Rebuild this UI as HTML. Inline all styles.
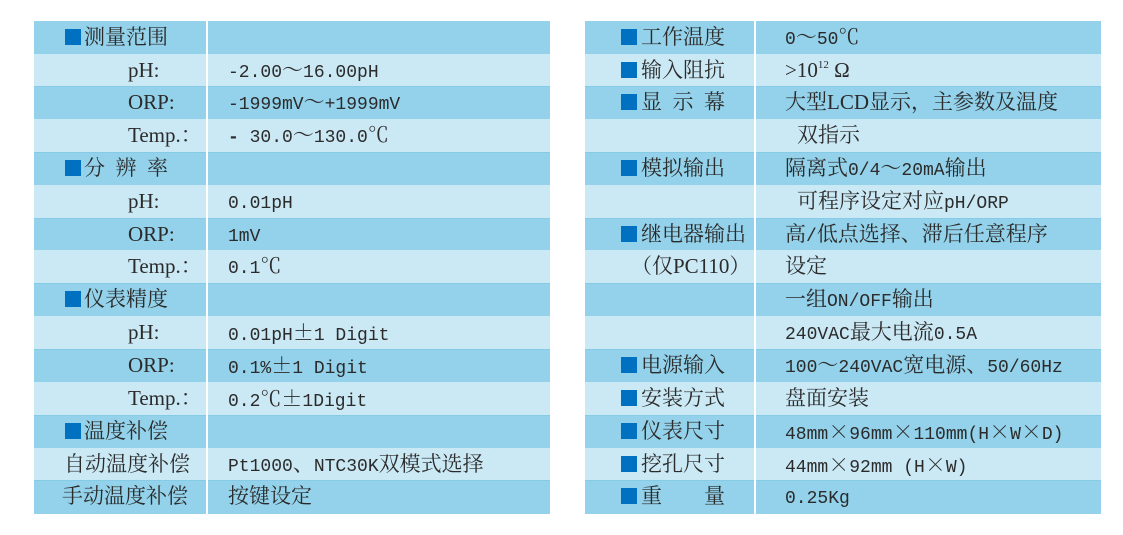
<!DOCTYPE html>
<html>
<head>
<meta charset="utf-8">
<style>
html,body{margin:0;padding:0;background:#fff;}
body{width:1123px;height:535px;position:relative;overflow:hidden;
 font-family:"Liberation Serif","Noto Serif CJK SC",serif;font-size:21px;color:#2b2b2b;}
.t{position:absolute;top:0;width:516px;height:535px;}
.row{position:absolute;left:0;width:516px;}
.row .a,.row .b{position:absolute;top:0;height:100%;}
.d .a,.d .b{background:#93D2EA;box-shadow:inset 0 1px 0 #86CBE6;}
.l .a,.l .b{background:#CBE9F5;}
.r0 .a,.r0 .b{box-shadow:none;}
.L .a{left:0;width:172px;}
.L .b{left:174px;width:342px;}
.R .a{left:0;width:169px;}
.R .b{left:171px;width:345px;}
.tx{position:absolute;top:0;white-space:nowrap;}
.sq{position:absolute;top:8px;width:16px;height:16px;background:#0070C0;}
.m{font-family:"Liberation Mono",monospace;font-size:18px;}
.f{font-family:"Noto Serif CJK SC",serif;font-size:21px;}
sup{font-size:11px;vertical-align:0;position:relative;top:-9px;}
</style>
</head>
<body>

<!-- LEFT TABLE -->
<div class="t L" style="left:34px;">
 <div class="row d r0" style="top:21px;height:33px;line-height:33px;"><div class="a"></div><div class="b"></div>
  <div class="sq" style="left:31px;"></div><div class="tx" style="left:50px;">测量范围</div></div>
 <div class="row l" style="top:54px;height:32px;line-height:32px;"><div class="a"></div><div class="b"></div>
  <div class="tx" style="left:94px;">pH:</div><div class="tx" style="left:194px;"><span class="m">-2.00</span>～<span class="m">16.00pH</span></div></div>
 <div class="row d" style="top:86px;height:33px;line-height:33px;"><div class="a"></div><div class="b"></div>
  <div class="tx" style="left:94px;">ORP:</div><div class="tx" style="left:194px;"><span class="m">-1999mV</span>～<span class="m">+1999mV</span></div></div>
 <div class="row l" style="top:119px;height:33px;line-height:33px;"><div class="a"></div><div class="b"></div>
  <div class="tx" style="left:94px;">Temp.：</div><div class="tx" style="left:194px;"><span class="m" style="font-weight:bold;">-</span><span class="m"> 30.0</span>～<span class="m">130.0</span>℃</div></div>
 <div class="row d" style="top:152px;height:33px;line-height:33px;"><div class="a"></div><div class="b"></div>
  <div class="sq" style="left:31px;"></div><div class="tx" style="left:50px;">分&ensp;辨&ensp;率</div></div>
 <div class="row l" style="top:185px;height:33px;line-height:33px;"><div class="a"></div><div class="b"></div>
  <div class="tx" style="left:94px;">pH:</div><div class="tx" style="left:194px;"><span class="m">0.01pH</span></div></div>
 <div class="row d" style="top:218px;height:32px;line-height:32px;"><div class="a"></div><div class="b"></div>
  <div class="tx" style="left:94px;">ORP:</div><div class="tx" style="left:194px;"><span class="m">1mV</span></div></div>
 <div class="row l" style="top:250px;height:33px;line-height:33px;"><div class="a"></div><div class="b"></div>
  <div class="tx" style="left:94px;">Temp.：</div><div class="tx" style="left:194px;"><span class="m">0.1</span>℃</div></div>
 <div class="row d" style="top:283px;height:33px;line-height:33px;"><div class="a"></div><div class="b"></div>
  <div class="sq" style="left:31px;"></div><div class="tx" style="left:50px;">仪表精度</div></div>
 <div class="row l" style="top:316px;height:33px;line-height:33px;"><div class="a"></div><div class="b"></div>
  <div class="tx" style="left:94px;">pH:</div><div class="tx" style="left:194px;"><span class="m">0.01pH</span><span class="f">±</span><span class="m">1 Digit</span></div></div>
 <div class="row d" style="top:349px;height:33px;line-height:33px;"><div class="a"></div><div class="b"></div>
  <div class="tx" style="left:94px;">ORP:</div><div class="tx" style="left:194px;"><span class="m">0.1%</span><span class="f">±</span><span class="m">1 Digit</span></div></div>
 <div class="row l" style="top:382px;height:33px;line-height:33px;"><div class="a"></div><div class="b"></div>
  <div class="tx" style="left:94px;">Temp.：</div><div class="tx" style="left:194px;"><span class="m">0.2</span>℃<span class="f">±</span><span class="m">1Digit</span></div></div>
 <div class="row d" style="top:415px;height:33px;line-height:33px;"><div class="a"></div><div class="b"></div>
  <div class="sq" style="left:31px;"></div><div class="tx" style="left:50px;">温度补偿</div></div>
 <div class="row l" style="top:448px;height:32px;line-height:32px;"><div class="a"></div><div class="b"></div>
  <div class="tx" style="left:30px;">自动温度补偿</div><div class="tx" style="left:194px;"><span class="m">Pt1000</span>、<span class="m">NTC30K</span>双模式选择</div></div>
 <div class="row d" style="top:480px;height:34px;line-height:33px;"><div class="a"></div><div class="b"></div>
  <div class="tx" style="left:28px;">手动温度补偿</div><div class="tx" style="left:194px;">按键设定</div></div>
</div>

<!-- RIGHT TABLE -->
<div class="t R" style="left:585px;">
 <div class="row d r0" style="top:21px;height:33px;line-height:33px;"><div class="a"></div><div class="b"></div>
  <div class="sq" style="left:36px;"></div><div class="tx" style="left:56px;">工作温度</div><div class="tx" style="left:200px;"><span class="m">0</span>～<span class="m">50</span>℃</div></div>
 <div class="row l" style="top:54px;height:32px;line-height:32px;"><div class="a"></div><div class="b"></div>
  <div class="sq" style="left:36px;"></div><div class="tx" style="left:56px;">输入阻抗</div><div class="tx" style="left:200px;">&gt;10<sup>12</sup> Ω</div></div>
 <div class="row d" style="top:86px;height:33px;line-height:33px;"><div class="a"></div><div class="b"></div>
  <div class="sq" style="left:36px;"></div><div class="tx" style="left:56px;">显&ensp;示&ensp;幕</div><div class="tx" style="left:200px;">大型LCD显示，主参数及温度</div></div>
 <div class="row l" style="top:119px;height:33px;line-height:33px;"><div class="a"></div><div class="b"></div>
  <div class="tx" style="left:212px;">双指示</div></div>
 <div class="row d" style="top:152px;height:33px;line-height:33px;"><div class="a"></div><div class="b"></div>
  <div class="sq" style="left:36px;"></div><div class="tx" style="left:56px;">模拟输出</div><div class="tx" style="left:200px;">隔离式<span class="m">0/4</span>～<span class="m">20mA</span>输出</div></div>
 <div class="row l" style="top:185px;height:33px;line-height:33px;"><div class="a"></div><div class="b"></div>
  <div class="tx" style="left:212px;">可程序设定对应<span class="m">pH/ORP</span></div></div>
 <div class="row d" style="top:218px;height:32px;line-height:32px;"><div class="a"></div><div class="b"></div>
  <div class="sq" style="left:36px;"></div><div class="tx" style="left:56px;">继电器输出</div><div class="tx" style="left:200px;">高<span class="m">/</span>低点选择、滞后任意程序</div></div>
 <div class="row l" style="top:250px;height:33px;line-height:33px;"><div class="a"></div><div class="b"></div>
  <div class="tx" style="left:46px;">（仅PC110）</div><div class="tx" style="left:200px;">设定</div></div>
 <div class="row d" style="top:283px;height:33px;line-height:33px;"><div class="a"></div><div class="b"></div>
  <div class="tx" style="left:200px;">一组<span class="m">ON/OFF</span>输出</div></div>
 <div class="row l" style="top:316px;height:33px;line-height:33px;"><div class="a"></div><div class="b"></div>
  <div class="tx" style="left:200px;"><span class="m">240VAC</span>最大电流<span class="m">0.5A</span></div></div>
 <div class="row d" style="top:349px;height:33px;line-height:33px;"><div class="a"></div><div class="b"></div>
  <div class="sq" style="left:36px;"></div><div class="tx" style="left:56px;">电源输入</div><div class="tx" style="left:200px;"><span class="m">100</span>～<span class="m">240VAC</span>宽电源、<span class="m">50/60Hz</span></div></div>
 <div class="row l" style="top:382px;height:33px;line-height:33px;"><div class="a"></div><div class="b"></div>
  <div class="sq" style="left:36px;"></div><div class="tx" style="left:56px;">安装方式</div><div class="tx" style="left:200px;">盘面安装</div></div>
 <div class="row d" style="top:415px;height:33px;line-height:33px;"><div class="a"></div><div class="b"></div>
  <div class="sq" style="left:36px;"></div><div class="tx" style="left:56px;">仪表尺寸</div><div class="tx" style="left:200px;"><span class="m">48mm</span><span class="f">×</span><span class="m">96mm</span><span class="f">×</span><span class="m">110mm(H</span><span class="f">×</span><span class="m">W</span><span class="f">×</span><span class="m">D)</span></div></div>
 <div class="row l" style="top:448px;height:32px;line-height:32px;"><div class="a"></div><div class="b"></div>
  <div class="sq" style="left:36px;"></div><div class="tx" style="left:56px;">挖孔尺寸</div><div class="tx" style="left:200px;"><span class="m">44mm</span><span class="f">×</span><span class="m">92mm (H</span><span class="f">×</span><span class="m">W)</span></div></div>
 <div class="row d" style="top:480px;height:34px;line-height:33px;"><div class="a"></div><div class="b"></div>
  <div class="sq" style="left:36px;"></div><div class="tx" style="left:56px;">重　　量</div><div class="tx" style="left:200px;"><span class="m">0.25Kg</span></div></div>
</div>

</body>
</html>
